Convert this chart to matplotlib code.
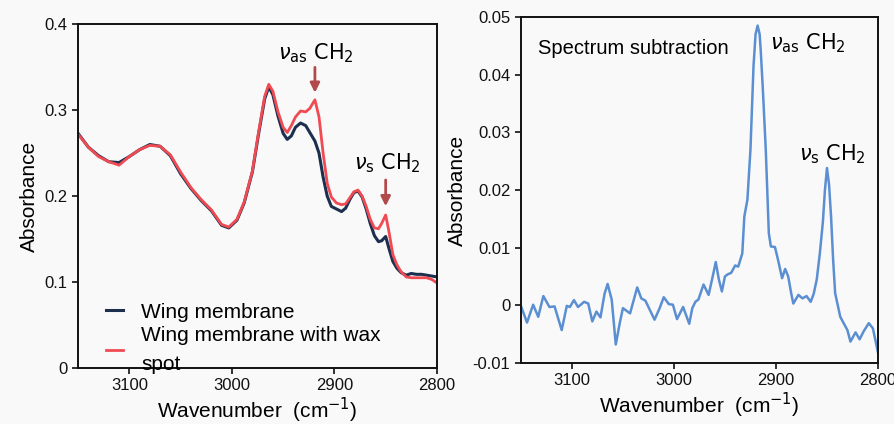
import matplotlib
matplotlib.use("Agg")
import matplotlib.pyplot as plt

plt.rcParams['font.family'] = ['Liberation Sans', 'DejaVu Sans']

# Left panel: raw spectra
wn_left = [3150, 3140, 3130, 3120, 3110, 3100, 3090, 3080, 3070, 3060,
           3050, 3040, 3030, 3020, 3010, 3003, 2995, 2988, 2980, 2974,
           2968, 2964, 2960, 2955, 2950, 2946, 2942, 2938, 2933, 2928,
           2924, 2919, 2915, 2911, 2907, 2903, 2898, 2893, 2889, 2885,
           2881, 2877, 2873, 2869, 2865, 2861, 2857, 2854, 2850, 2847,
           2843, 2839, 2835, 2830, 2825, 2820, 2815, 2810, 2805, 2800]
membrane = [0.273, 0.257, 0.247, 0.240, 0.239, 0.246, 0.254, 0.260, 0.258, 0.247,
            0.226, 0.209, 0.195, 0.183, 0.166, 0.163, 0.172, 0.192, 0.228, 0.272,
            0.313, 0.327, 0.318, 0.293, 0.273, 0.266, 0.270, 0.280, 0.285, 0.282,
            0.274, 0.264, 0.250, 0.222, 0.200, 0.188, 0.185, 0.182, 0.186, 0.196,
            0.204, 0.206, 0.199, 0.185, 0.168, 0.154, 0.147, 0.148, 0.153, 0.140,
            0.124, 0.116, 0.111, 0.108, 0.110, 0.109, 0.109, 0.108, 0.107, 0.106]
with_wax = [0.272, 0.257, 0.246, 0.240, 0.236, 0.246, 0.254, 0.259, 0.258, 0.248,
            0.228, 0.210, 0.196, 0.184, 0.167, 0.164, 0.173, 0.193, 0.229, 0.274,
            0.316, 0.330, 0.322, 0.298, 0.280, 0.274, 0.282, 0.292, 0.299, 0.298,
            0.302, 0.312, 0.292, 0.250, 0.215, 0.199, 0.192, 0.190, 0.191, 0.198,
            0.205, 0.207, 0.200, 0.188, 0.173, 0.163, 0.162, 0.168, 0.178, 0.160,
            0.132, 0.120, 0.112, 0.106, 0.105, 0.105, 0.105, 0.105, 0.103, 0.099]

# Right panel: difference spectrum
wn_right = [3150, 3144, 3138, 3133, 3128, 3122, 3117, 3110, 3105, 3102,
            3098, 3094, 3088, 3084, 3080, 3076, 3072, 3068, 3065, 3061,
            3057, 3053, 3050, 3043, 3036, 3032, 3028, 3019, 3014, 3010,
            3005, 3001, 2997, 2991, 2985, 2982, 2979, 2976, 2971, 2966,
            2962, 2959, 2956, 2953, 2950, 2947, 2944, 2940, 2937, 2933,
            2931, 2928, 2925, 2922, 2920, 2918, 2916, 2915, 2913, 2910,
            2907, 2905, 2901, 2898, 2894, 2891, 2888, 2885, 2883, 2878,
            2874, 2870, 2866, 2863, 2860, 2857, 2854, 2852, 2850, 2848,
            2846, 2844, 2842, 2837, 2830, 2827, 2822, 2818, 2814, 2809,
            2805, 2800]
subtraction = [-0.0001, -0.0030, 0.0001, -0.0020, 0.0016, -0.0003, -0.0002, -0.0043, -0.0001, -0.0003,
               0.0009, -0.0003, 0.0006, 0.0003, -0.0028, -0.0011, -0.0021, 0.0020, 0.0037, 0.0010,
               -0.0068, -0.0030, -0.0005, -0.0014, 0.0031, 0.0012, 0.0008, -0.0025, -0.0005, 0.0014,
               0.0002, 0.0001, -0.0024, -0.0003, -0.0032, -0.0005, 0.0006, 0.0010, 0.0036, 0.0018,
               0.0050, 0.0075, 0.0045, 0.0024, 0.0050, 0.0054, 0.0056, 0.0069, 0.0067, 0.0090,
               0.0154, 0.0183, 0.0270, 0.0415, 0.0470, 0.0485, 0.0470, 0.0444, 0.0380, 0.0270,
               0.0125, 0.0102, 0.0101, 0.0079, 0.0047, 0.0063, 0.0050, 0.0020, 0.0003, 0.0018,
               0.0012, 0.0016, 0.0006, 0.0020, 0.0045, 0.0090, 0.0145, 0.0200, 0.0238, 0.0210,
               0.0154, 0.0080, 0.0021, -0.0020, -0.0043, -0.0063, -0.0047, -0.0059, -0.0045, -0.0031,
               -0.0040, -0.0082]

bg = '#f9f9f9'
dark = '#1c2f4f'
red = '#f04a52'
arrow_col = '#b24a4b'
blue = '#5b8fd2'

fig = plt.figure(figsize=(8.95, 4.24), dpi=100, facecolor=bg)
ax1 = fig.add_axes([0.0872, 0.132, 0.401, 0.811], facecolor=bg)
ax2 = fig.add_axes([0.582, 0.144, 0.399, 0.816], facecolor=bg)

ax1.plot(wn_left, membrane, color=dark, lw=2.2, label='Wing membrane')
ax1.plot(wn_left, with_wax, color=red, lw=2.0, label='Wing membrane with wax\nspot')
ax1.set_xlim(3150, 2800)
ax1.set_ylim(0, 0.4)
ax1.set_yticks([0, 0.1, 0.2, 0.3, 0.4])
ax1.set_yticklabels(['0', '0.1', '0.2', '0.3', '0.4'])
ax1.set_xticks([3100, 3000, 2900, 2800])

ax1.annotate('', xy=(2919, 0.317), xytext=(2919, 0.353),
             arrowprops=dict(arrowstyle='-|>', color=arrow_col, lw=2, mutation_scale=14))
ax1.annotate('', xy=(2850, 0.185), xytext=(2850, 0.222),
             arrowprops=dict(arrowstyle='-|>', color=arrow_col, lw=2, mutation_scale=14))
ax1.text(2918, 0.366, r'$\nu_{\rm as}$ CH$_2$', fontsize=15, ha='center', va='center',
         family=['DejaVu Sans'])
ax1.text(2848, 0.238, r'$\nu_{\rm s}$ CH$_2$', fontsize=15, ha='center', va='center',
         family=['DejaVu Sans'])

leg = ax1.legend(loc='upper left', bbox_to_anchor=(0.078, 0.19), frameon=False,
                 fontsize=15, handlelength=0.8, handletextpad=0.9, borderpad=0,
                 borderaxespad=0, labelspacing=0.2)
for t in leg.get_texts():
    t.set_linespacing(1.65)

ax2.plot(wn_right, subtraction, color=blue, lw=1.8)
ax2.set_xlim(3150, 2800)
ax2.set_ylim(-0.01, 0.05)
ax2.set_yticks([-0.01, 0, 0.01, 0.02, 0.03, 0.04, 0.05])
ax2.set_yticklabels(['-0.01', '0', '0.01', '0.02', '0.03', '0.04', '0.05'])
ax2.set_xticks([3100, 3000, 2900, 2800])
ax2.text(3133, 0.0445, 'Spectrum subtraction', fontsize=14.5, ha='left', va='center')
ax2.text(2906, 0.0455, r'$\nu_{\rm as}$ CH$_2$', fontsize=15, ha='left', va='center',
         family=['DejaVu Sans'])
ax2.text(2877, 0.0262, r'$\nu_{\rm s}$ CH$_2$', fontsize=15, ha='left', va='center',
         family=['DejaVu Sans'])

for ax in (ax1, ax2):
    for s in ax.spines.values():
        s.set_linewidth(1.4)
        s.set_color('#111111')
    ax.tick_params(direction='out', length=4, width=1.2, labelsize=12, colors='#111111')
    ax.set_xlabel('Wavenumber  (cm$^{-1}$)', fontsize=15, labelpad=2)
    ax.set_ylabel('Absorbance', fontsize=15, labelpad=4)

fig.savefig('out.png', dpi=100, facecolor=bg)
